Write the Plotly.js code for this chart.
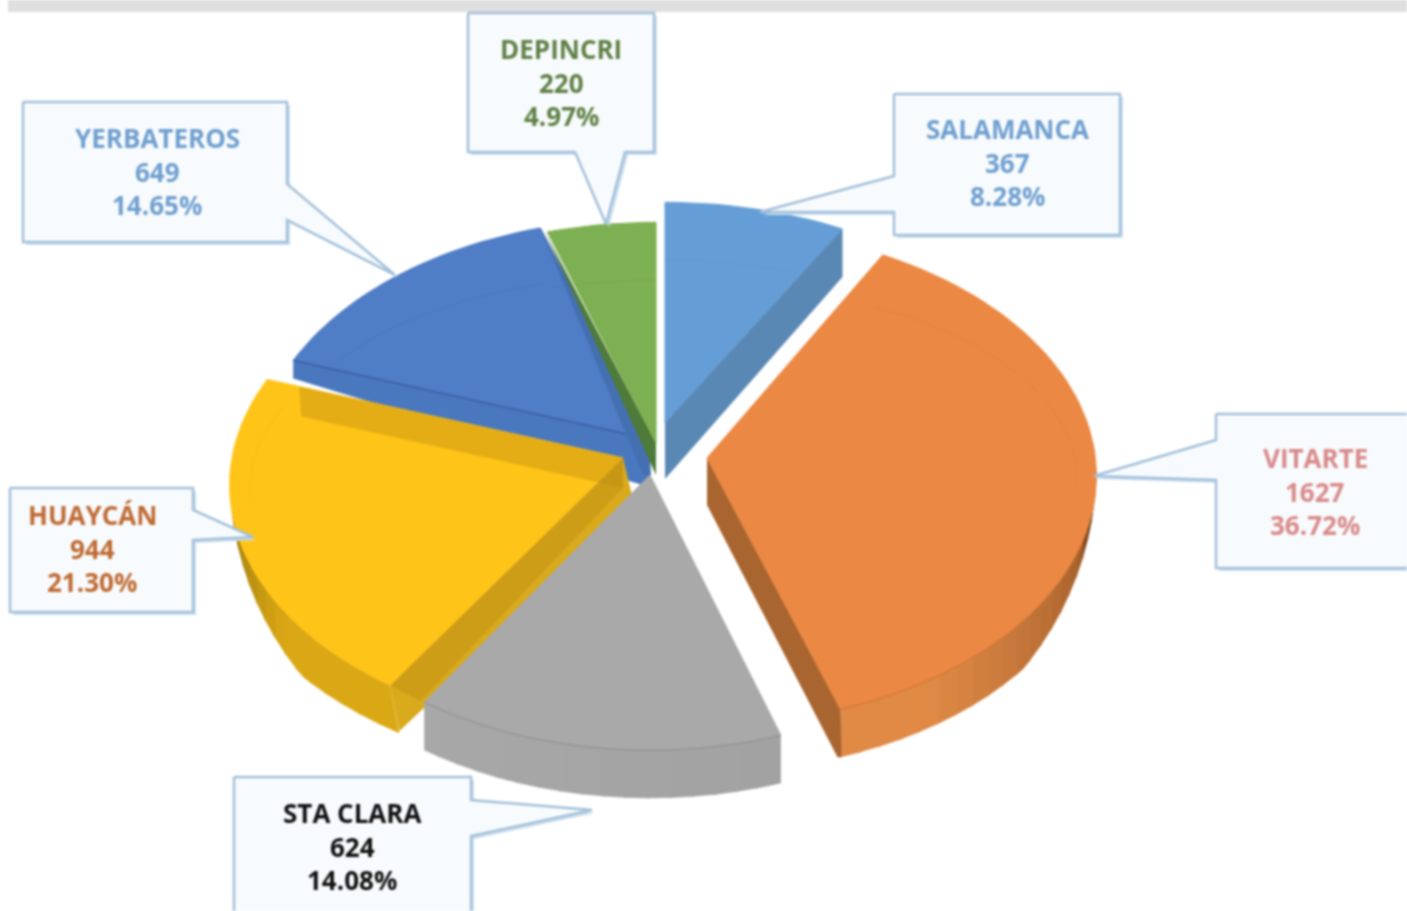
<!DOCTYPE html>
<html><head><meta charset="utf-8">
<script src="https://cdn.plot.ly/plotly-3.0.1.min.js"></script>
<style>html,body{margin:0;padding:0;background:#fff;overflow:hidden}#c{width:1407px;height:911px;filter:blur(0.8px)}</style>
</head><body><div id="c"></div>
<script>
// ---- data ----
const names  = ["SALAMANCA","VITARTE","STA CLARA","HUAYCÁN","YERBATEROS","DEPINCRI"];
const values = [367,1627,624,944,649,220];
// ---- styles ----
const topColors  = ["#659ed6","#eb8844","#a9a9a9","#ffc418","#4f7dc6","#7db052"];
const textColors = ["#6f9fd0","#d98a8a","#111111","#bf6a33","#6f9fd0","#5f8046"];
// ---- layout of the exploded pie (pixel axes) ----
const RX=391, RY=245, K=0.11, DEPTH=48;
const apexes  = [[665,423],[707,458],[650,475],[623,458],[649,439],[656,443]];
const arcLift = [0,-9,0,0,0,0];
const rxScale = [1,0.99,0.97,1,1,1];
const total = values.reduce((a,b)=>a+b,0);
const starts=[]; let acc=0; values.forEach(v=>{starts.push(acc/total*360);acc+=v;});
const ends = starts.map((s,i)=>s+values[i]/total*360);

function proj(i,deg,r){r=r===undefined?1:r;const t=deg*Math.PI/180,u=Math.sin(t)*r,v=Math.cos(t)*r,s=1/(1+K*v);
  return [apexes[i][0]+RX*rxScale[i]*u*s, apexes[i][1]+arcLift[i]-RY*v*s];}
function arc(i,a,b,r){const n=Math.max(2,Math.ceil(Math.abs(b-a)/2)),o=[];for(let k=0;k<=n;k++)o.push(proj(i,a+(b-a)*k/n,r));return o;}
const traces=[];
function poly(pts,fill,name,line){traces.push({type:"scatter",mode:"lines",name:name||"",x:pts.map(p=>p[0]).concat(pts[0][0]),y:pts.map(p=>p[1]).concat(pts[0][1]),
  fill:"toself",fillcolor:fill,line:line||{width:0,color:fill},hoverinfo:"skip",showlegend:false});}
function path(pts,color,w){traces.push({type:"scatter",mode:"lines",x:pts.map(p=>p[0]),y:pts.map(p=>p[1]),line:{color:color,width:w},hoverinfo:"skip",showlegend:false});}
const down=(p,d,dx)=>[p[0]+(dx||0),p[1]+d];
function topFace(i){poly([apexes[i]].concat(arc(i,starts[i],ends[i])),topColors[i],names[i],{width:1,color:topColors[i]});
  // faint bevel line near the back part of the face
  const inner=[];const n=Math.ceil((ends[i]-starts[i])/2);
  for(let k=0;k<=n;k++){const d=starts[i]+(ends[i]-starts[i])*k/n,v=Math.cos(d*Math.PI/180);
    if(v<-0.15)continue;const p=proj(i,d,0.95);inner.push([p[0],p[1]+10+38*Math.max(v,0)]);}
  if(inner.length>1)path(inner,"rgba(0,0,0,0.035)",1);}
function mix(a,b,t){t=Math.max(0,Math.min(1,t));const h=s=>[1,3,5].map(k=>parseInt(s.substr(k,2),16));const A=h(a),B=h(b);return "rgb("+A.map((c,k)=>Math.round(c+(B[k]-c)*t)).join(",")+")";}
function rim(i,a,b,colFn,tipShift){const step=3;for(let d=a;d<b-0.01;d+=step){const e=Math.min(d+step+0.5,b),p=arc(i,d,e);
  const dep=x=>{const v=-Math.cos(x*Math.PI/180);return DEPTH*Math.max(0,Math.min(1,(v-0.2)/0.45));};
  const n=p.length,low=p.map((pt,k)=>{const x=d+(e-d)*k/(n-1);return down(pt,dep(x),(tipShift||0)*Math.max(0,1-(x-a)/18));}).reverse();
  poly(p.concat(low),colFn((d-a)/(b-a)));}}

// Salamanca
topFace(0);
{const c=proj(0,ends[0]);poly([apexes[0],c,down(c,48),down(apexes[0],56)],"#5a88b5");}
// Yerbateros
{const c=proj(4,starts[4]);poly([apexes[4],c,down(c,18),down(apexes[4],48)],"#4a78bf");}
topFace(4);
path([proj(4,starts[4]),apexes[4]],"rgba(40,70,130,0.55)",1.5);
{const c=proj(4,ends[4]);poly([c,[apexes[4][0]-24,apexes[4][1]-8],down(apexes[4],36,-6),down(apexes[4],36,2),apexes[4]],"#4470b2");}
// Depincri
{const c=proj(5,starts[5]);poly([[c[0]-3,c[1]-1],apexes[5],down(apexes[5],32)],"#4e7a3a");}
topFace(5);
// Huaycán
{const A=apexes[3],C=proj(3,ends[3]),c=proj(3,starts[3]);
 rim(3,starts[3],ends[3],t=>t<0.25?"#dba815":(t<0.5?mix("#dba815","#a8830f",(t-0.25)/0.25):mix("#a8830f","#2a2003",(t-0.5)/0.12)),9);
 poly([A,c,down(c,46,9),down(A,50,12)],"#d9aa1c");
 topFace(3);
 const P=[C[0]+(A[0]-C[0])*0.09,C[1]+(A[1]-C[1])*0.09];
 poly([P,down(P,30,2),down(A,30),A],"rgba(190,140,20,0.42)");
 poly([A,c,[c[0]+30,c[1]+16],down(A,30)],"rgba(190,140,20,0.42)");
}
// Sta Clara
rim(2,starts[2],ends[2],t=>mix("#a2a2a2","#a8a8a8",t));
topFace(2);
path(arc(2,starts[2],ends[2]),"rgba(120,120,120,0.6)",1);
// Vitarte
{const c=proj(1,ends[1]);
 rim(1,90,ends[1],t=>t<0.3?mix("#3a1e05","#a8622c",(t-0.15)/0.15):mix("#a8622c","#e08a46",(t-0.3)/0.5));
 poly([apexes[1],c,down(c,48,1),down(c,48,-3),down(apexes[1],47)],"#a9652f");
 topFace(1);
 path(arc(1,105,ends[1]),"rgba(170,90,30,0.5)",1);
}

// ---- callouts ----
const boxes = [
 {pts:[[894,94],[1120,94],[1120,235],[894,235],[894,212],[760,212],[894,176]]},
 {pts:[[1216,414],[1420,414],[1420,568],[1216,568],[1216,480],[1094,476],[1216,440]]},
 {pts:[[234,777],[471,777],[471,800],[592,810],[471,836],[471,930],[234,930]]},
 {pts:[[10,488],[193,488],[193,510],[253,537],[193,540],[193,612],[10,612]]},
 {pts:[[23,102],[287,102],[287,184],[395,275],[287,220],[287,242],[23,242]]},
 {pts:[[468,13],[654,13],[654,152],[625,152],[606,224],[575,152],[468,152]]}
];
boxes.forEach(b=>{poly(b.pts.map(p=>[p[0]+3,p[1]+3]),"#c9dcee");});
boxes.forEach(b=>{poly(b.pts,"#f8fbfd","",{width:2.5,color:"#a3c0da"});});

const textX=[1007,1315,352,92,157,561];
const textY=[130,459,814,516,139,50];
const LINE=33.6;
const annotations=[];
names.forEach((n,i)=>{[n,String(values[i]),(values[i]/total*100).toFixed(2)+"%"].forEach((t,k)=>{
 annotations.push({x:textX[i],y:textY[i]+k*LINE-1,xref:"x",yref:"y",text:t,showarrow:false,xanchor:"center",yanchor:"middle",
   font:{family:"'Open Sans', Lato, sans-serif",size:26,color:textColors[i],weight:700}});});});

Plotly.newPlot("c",traces,{
 width:1407,height:911,margin:{l:0,r:0,t:0,b:0},paper_bgcolor:"#fff",plot_bgcolor:"#fff",showlegend:false,
 xaxis:{range:[0,1407],visible:false,fixedrange:true},
 yaxis:{range:[911,0],visible:false,fixedrange:true},
 annotations:annotations,
 shapes:[{type:"rect",xref:"x",yref:"y",x0:8,x1:1407,y0:0,y1:12,fillcolor:"#dfdfdf",line:{width:0},layer:"below"}]
},{displayModeBar:false,staticPlot:true});
</script></body></html>
